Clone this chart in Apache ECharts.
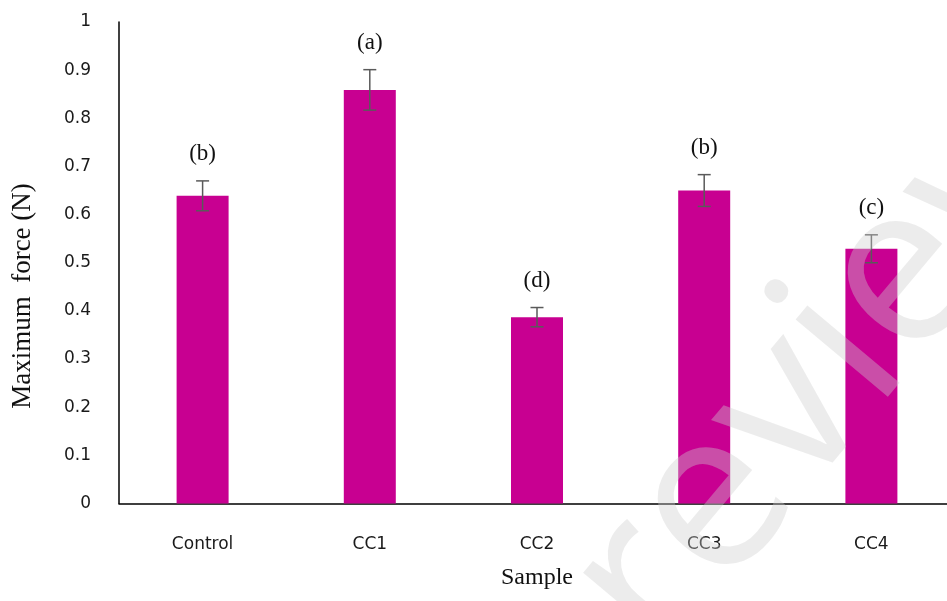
<!DOCTYPE html>
<html>
<head>
<meta charset="utf-8">
<script src="https://cdn.jsdelivr.net/npm/echarts@6/dist/echarts.min.js"></script>
<style>
  html, body { margin: 0; padding: 0; background: #ffffff; }
  #chart { width: 947px; height: 601px; }
</style>
</head>
<body>
<div id="chart"></div>
<script>
// Maximum force per sample, with standard deviation and significance groups
const categories = ['Control', 'CC1', 'CC2', 'CC3', 'CC4'];
const meanForce = [0.639, 0.859, 0.387, 0.650, 0.529];
const errForce = [0.031, 0.042, 0.020, 0.033, 0.029];
const groupLetters = ['(b)', '(a)', '(d)', '(b)', '(c)'];
const yTicks = [0, 0.1, 0.2, 0.3, 0.4, 0.5, 0.6, 0.7, 0.8, 0.9, 1];

const BAR_COLOR = '#c80091';
const SERIF = '"Liberation Serif", "Times New Roman", serif';
const SANS = '"DejaVu Sans", "Liberation Sans", sans-serif';

const errorData = categories.map((c, i) => [i, meanForce[i], errForce[i], groupLetters[i]]);

const chart = echarts.init(document.getElementById('chart'), null, { renderer: 'canvas' });

chart.setOption({
  animation: false,
  backgroundColor: '#ffffff',
  // plot area runs slightly past the right edge of the canvas
  grid: {
    left: 119, top: 22, bottom: 97.5, width: 836,
    containLabel: false,
    outerBoundsMode: 'none'
  },
  xAxis: {
    type: 'category',
    data: categories,
    axisLine: { lineStyle: { color: '#000000', width: 1.5 } },
    axisTick: { show: false },
    axisLabel: { color: '#1a1a1a', fontSize: 17, fontFamily: SANS, margin: 33 },
    name: 'Sample',
    nameLocation: 'middle',
    nameGap: 62,
    nameTextStyle: { color: '#111111', fontSize: 24, fontFamily: SERIF }
  },
  yAxis: {
    type: 'value',
    min: 0,
    max: 1,
    interval: 0.1,
    splitLine: { show: false },
    axisLine: { show: true, lineStyle: { color: '#000000', width: 1.5 } },
    axisTick: { show: false },
    axisLabel: {
      color: '#1a1a1a', fontSize: 17, fontFamily: SANS, margin: 28,
      formatter: v => {
        const t = yTicks.find(k => Math.abs(k - v) < 1e-9);
        return t === undefined ? '' : String(t);
      }
    }
  },
  series: [
    {
      type: 'bar',
      data: meanForce,
      barWidth: 52,
      itemStyle: { color: BAR_COLOR },
      z: 2
    },
    {
      type: 'custom',
      data: errorData,
      z: 3,
      renderItem: function (params, api) {
        const i = api.value(0);
        const m = api.value(1);
        const e = api.value(2);
        const hi = api.coord([i, m + e]);
        const lo = api.coord([i, m - e]);
        const cap = 6.5;
        const stroke = { stroke: '#5a5a5a', lineWidth: 1.5 };
        return {
          type: 'group',
          children: [
            { type: 'line', shape: { x1: hi[0], y1: hi[1], x2: lo[0], y2: lo[1] }, style: stroke },
            { type: 'line', shape: { x1: hi[0] - cap, y1: hi[1], x2: hi[0] + cap, y2: hi[1] }, style: stroke },
            { type: 'line', shape: { x1: lo[0] - cap, y1: lo[1], x2: lo[0] + cap, y2: lo[1] }, style: stroke },
            {
              type: 'text',
              x: hi[0],
              y: hi[1] - 15,
              style: {
                text: groupLetters[i],
                fill: '#111111',
                font: '23px ' + SERIF,
                textAlign: 'center',
                textVerticalAlign: 'bottom'
              }
            }
          ]
        };
      }
    }
  ],
  graphic: [
    {
      type: 'text',
      x: 23,
      y: 296,
      rotation: Math.PI / 2,
      style: {
        text: 'Maximum  force (N)',
        fill: '#111111',
        font: '27px ' + SERIF,
        textAlign: 'center',
        textVerticalAlign: 'middle'
      }
    },
    {
      type: 'text',
      x: 835,
      y: 360,
      rotation: 50 * Math.PI / 180,
      z: 100,
      style: {
        text: 'review',
        fill: 'rgba(205,205,205,0.38)',
        font: '225px "Open Sans", "DejaVu Sans", sans-serif',
        textAlign: 'center',
        textVerticalAlign: 'middle'
      }
    }
  ]
});
</script>
</body>
</html>
